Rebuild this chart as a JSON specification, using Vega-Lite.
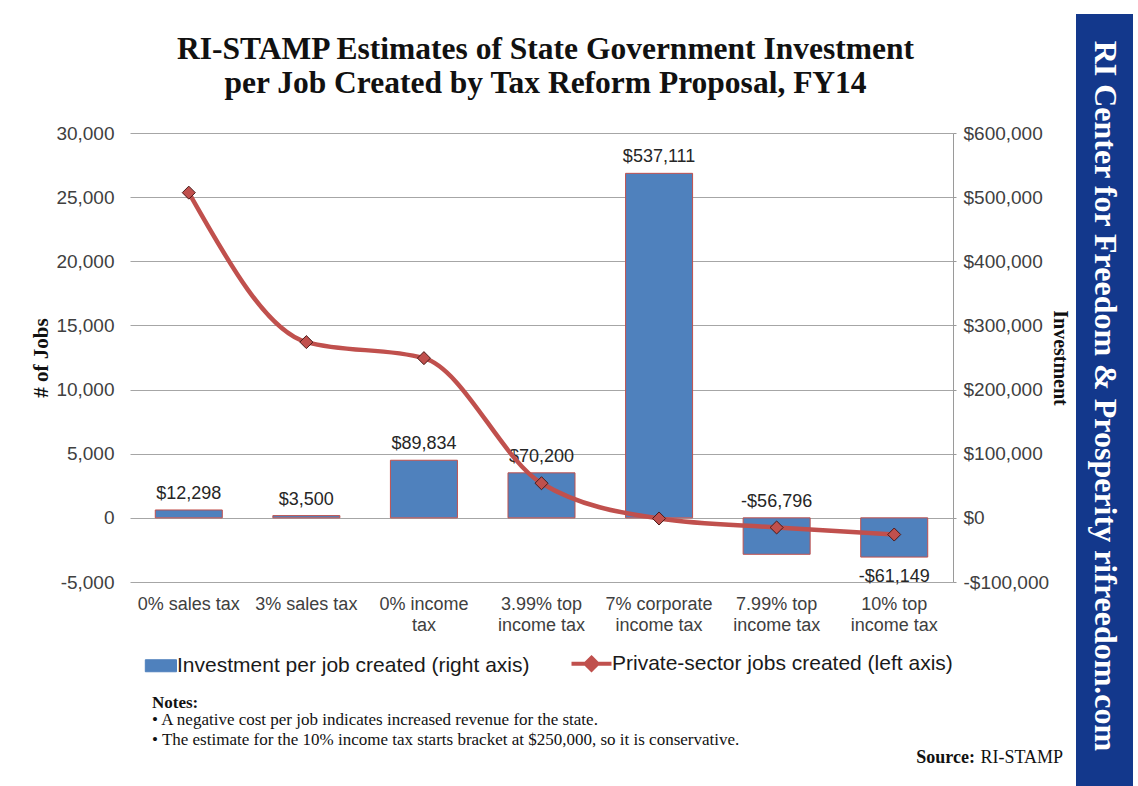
{
  "$schema": "https://vega.github.io/schema/vega-lite/v6.json",
  "background": "white",
  "padding": {"left": 30, "top": 14, "right": 5, "bottom": 14},
  "config": {
    "font": "Liberation Sans",
    "view": {"stroke": null},
    "axis": {"labelFont": "Liberation Sans", "labelColor": "#404040", "labelFontSize": 19},
    "legend": {
      "orient": "none",
      "legendX": 16,
      "legendY": 520,
      "direction": "horizontal",
      "title": null,
      "padding": 0,
      "symbolSize": 1600,
      "symbolType": {"expr": "datum.value === 'Investment per job created (right axis)' ? 'M-0.56,-0.3H1V0.3H-0.56Z' : 'M-1,0H1M0,-0.3L0.3,0L0,0.3L-0.3,0Z'"},
      "symbolStrokeColor": "#c0504d",
      "symbolStrokeWidth": {"expr": "datum.value === 'Investment per job created (right axis)' ? 1 : 4"},
      "symbolOpacity": 1,
      "columnPadding": 33,
      "labelFont": "Liberation Sans",
      "labelFontSize": 21,
      "labelColor": "#1a1a1a",
      "labelOffset": 10,
      "labelLimit": 500
    }
  },
  "resolve": {"scale": {"color": "independent"}, "legend": {"color": "independent"}},
  "hconcat": [
    {
      "resolve": {"scale": {"color": "independent"}, "legend": {"color": "independent"}},
      "vconcat": [
        {
          "width": 823,
          "height": 449,
          "title": {
            "text": ["RI-STAMP Estimates of State Government Investment", "per Job Created by Tax Reform Proposal, FY14"],
            "font": "Liberation Serif",
            "fontSize": 31.5,
            "fontWeight": "bold",
            "lineHeight": 34,
            "color": "#111111",
            "anchor": "middle",
            "dx": 4,
            "offset": 25
          },
          "data": {
            "values": [
              {"proposal": "0% sales tax", "investment": 12298, "jobs": 25350},
              {"proposal": "3% sales tax", "investment": 3500, "jobs": 13700},
              {"proposal": "0% income tax", "investment": 89834, "jobs": 12450},
              {"proposal": "3.99% top income tax", "investment": 70200, "jobs": 2700},
              {"proposal": "7% corporate income tax", "investment": 537111, "jobs": -50},
              {"proposal": "7.99% top income tax", "investment": -56796, "jobs": -750},
              {"proposal": "10% top income tax", "investment": -61149, "jobs": -1300}
            ]
          },
          "transform": [
            {"calculate": "(datum.investment < 0 ? '-' : '') + '$' + format(abs(datum.investment), ',')", "as": "money"},
            {"calculate": "max(datum.investment, 0)", "as": "labelTop"}
          ],
          "encoding": {
            "x": {
              "field": "proposal",
              "type": "nominal",
              "sort": null,
              "title": null,
              "scale": {"paddingInner": 0.43, "paddingOuter": 0.215},
              "axis": {
                "domain": false,
                "ticks": false,
                "labelAngle": 0,
                "labelBaseline": "top",
                "labelPadding": 13,
                "labelLineHeight": 21,
                "labelFontSize": 18,
                "labelExpr": "datum.label === '0% income tax' ? ['0% income', 'tax'] : indexof(datum.label, ' income tax') > 0 ? [replace(datum.label, ' income tax', ''), 'income tax'] : datum.label"
              }
            }
          },
          "layer": [
            {
              "encoding": {
                "y": {
                  "field": "investment",
                  "type": "quantitative",
                  "scale": {"domain": [-100000, 600000], "nice": false, "zero": false},
                  "axis": {
                    "orient": "right",
                    "title": "Investment",
                    "titleFont": "Liberation Serif",
                    "titleFontSize": 20,
                    "titleFontWeight": "bold",
                    "titleColor": "#111111",
                    "titlePadding": 1,
                    "values": [-100000, 0, 100000, 200000, 300000, 400000, 500000, 600000],
                    "labelExpr": "(datum.value < 0 ? '-' : '') + '$' + format(abs(datum.value), ',')",
                    "grid": false,
                    "domain": true,
                    "domainColor": "#9a9a9a",
                    "ticks": true,
                    "tickSize": 3,
                    "tickColor": "#9a9a9a",
                    "labelPadding": 7
                  }
                }
              },
              "layer": [
                {
                  "mark": {"type": "bar", "stroke": "#c0504d", "strokeWidth": 1},
                  "encoding": {
                    "color": {
                      "datum": "Investment per job created (right axis)",
                      "scale": {
                        "domain": ["Investment per job created (right axis)", "Private-sector jobs created (left axis)"],
                        "range": ["#4f81bd", "#c0504d"]
                      }
                    }
                  }
                },
                {
                  "transform": [{"filter": "datum.proposal !== '10% top income tax'"}],
                  "mark": {"type": "text", "baseline": "bottom", "dy": -7, "fontSize": 18, "color": "#262626"},
                  "encoding": {
                    "y": {"field": "labelTop", "type": "quantitative"},
                    "text": {"field": "money"}
                  }
                },
                {
                  "transform": [{"filter": "datum.proposal === '10% top income tax'"}],
                  "mark": {"type": "text", "baseline": "top", "dy": 11, "fontSize": 18, "color": "#262626"},
                  "encoding": {
                    "text": {"field": "money"}
                  }
                }
              ]
            },
            {
              "encoding": {
                "y": {
                  "field": "jobs",
                  "type": "quantitative",
                  "scale": {"domain": [-5000, 30000], "nice": false, "zero": false},
                  "axis": {
                    "orient": "left",
                    "title": "# of Jobs",
                    "titleFont": "Liberation Serif",
                    "titleFontSize": 21,
                    "titleFontWeight": "bold",
                    "titleColor": "#111111",
                    "titlePadding": 4,
                    "values": [-5000, 0, 5000, 10000, 15000, 20000, 25000, 30000],
                    "labelExpr": "replace(format(datum.value, ','), '\u2212', '-')",
                    "grid": true,
                    "gridColor": "#a6a6a6",
                    "gridWidth": 1,
                    "domain": false,
                    "ticks": false,
                    "labelPadding": 16
                  }
                }
              },
              "layer": [
                {
                  "mark": {"type": "line", "interpolate": "monotone", "strokeWidth": 4.5},
                  "encoding": {
                    "color": {"datum": "Private-sector jobs created (left axis)"}
                  }
                },
                {
                  "mark": {"type": "point", "shape": "diamond", "filled": true, "size": 170, "fill": "#c0504d", "stroke": "#4a1a18", "strokeWidth": 1, "opacity": 1}
                }
              ]
            }
          ],
          "resolve": {"scale": {"y": "independent"}}
        },
        {
          "width": 933,
          "height": 7,
          "view": {"stroke": null},
          "title": {
            "text": "Notes:",
            "subtitle": ["\u2022  A negative cost per job  indicates increased revenue for the state.", "\u2022  The estimate for the 10% income tax starts bracket at $250,000,  so it is conservative."],
            "anchor": "start",
            "dx": 22,
            "font": "Liberation Serif",
            "fontSize": 17,
            "fontWeight": "bold",
            "color": "#111111",
            "subtitleFont": "Liberation Serif",
            "subtitleFontSize": 17,
            "subtitleColor": "#111111",
            "subtitleLineHeight": 20,
            "subtitlePadding": 0,
            "offset": 0
          },
          "data": {"values": [{"label": "Source:", "name": "RI-STAMP"}]},
          "layer": [
            {
              "mark": {"type": "text", "align": "right", "baseline": "alphabetic", "font": "Liberation Serif", "fontSize": 18, "color": "#111111"},
              "encoding": {"x": {"value": "width"}, "y": {"value": "height"}, "text": {"field": "name"}}
            },
            {
              "mark": {"type": "text", "align": "right", "baseline": "alphabetic", "dx": -88, "font": "Liberation Serif", "fontSize": 18, "fontWeight": "bold", "color": "#111111"},
              "encoding": {"x": {"value": "width"}, "y": {"value": "height"}, "text": {"field": "label"}}
            }
          ]
        }
      ],
      "spacing": 16
    },
    {
      "width": 57,
      "height": 872,
      "view": {"fill": "#13388c", "stroke": null},
      "data": {"values": [{"org": "RI Center for Freedom & Prosperity    rifreedom.com"}]},
      "mark": {"type": "text", "angle": 90, "align": "center", "baseline": "middle", "font": "Liberation Serif", "fontSize": 32, "fontWeight": "bold", "color": "#ffffff"},
      "encoding": {
        "x": {"field": "org", "type": "nominal", "axis": null, "scale": {"type": "point", "padding": 0.5}},
        "y": {"field": "org", "type": "nominal", "axis": null, "scale": {"type": "point", "padding": 0.5, "align": 0.438}},
        "text": {"field": "org"}
      }
    }
  ],
  "spacing": 6,
  "center": true
}
